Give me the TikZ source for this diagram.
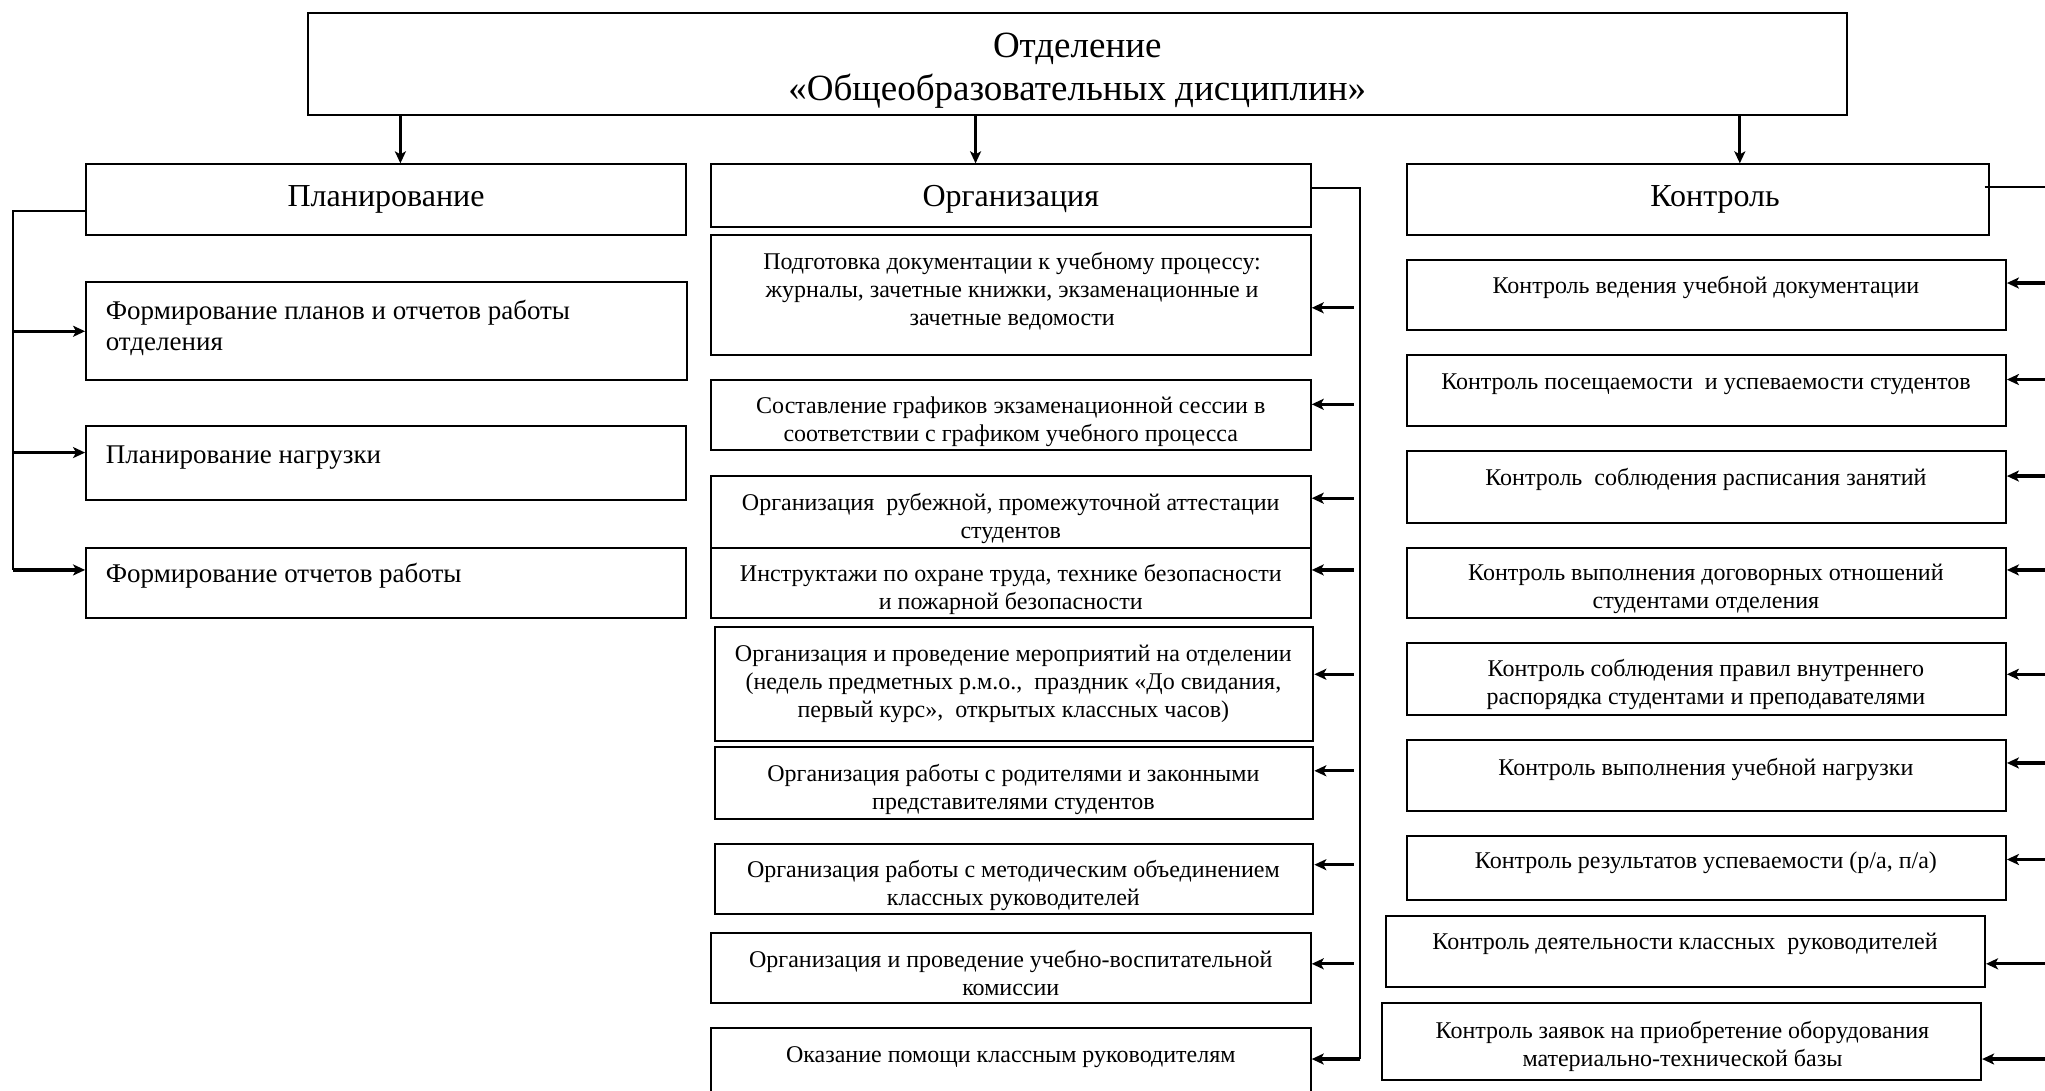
\documentclass[tikz,border=0pt]{standalone}
\usepackage{fontspec}
\setmainfont{Liberation Serif}
\usetikzlibrary{arrows.meta,fit}
\begin{document}
\begin{tikzpicture}[x=1.3042pt,y=-1.3042pt,
  box/.style={draw, line width=2pt, inner sep=0pt},
  txt/.style={align=center, inner sep=0pt, yshift=-3.5pt, font=\fontsize{24}{28}\selectfont},
  ltxt/.style={align=left, inner sep=0pt, anchor=west, yshift=-2pt, font=\fontsize{27}{31.5}\selectfont},
  htxt/.style={align=center, inner sep=0pt, yshift=-3.5pt, font=\fontsize{32}{38}\selectfont},
  ttxt/.style={align=center, inner sep=0pt, yshift=-3.5pt, font=\fontsize{37}{43}\selectfont},
  arr/.style={line width=3.2pt, -{Stealth[length=12pt,width=11pt,inset=3pt]}},
  bus/.style={line width=2pt}]
\useasboundingbox (0,0) rectangle (1568,836);
\fill[white] (0,0) rectangle (1568,836);

% top
\node[box, fit={(236,10) (1416,88)}] (top) {};
\node[ttxt] (topt) at (826,51.5) {Отделение\\«Общеобразовательных дисциплин»};

% headers
\node[box, fit={(66,126) (526,180)}] (pl) {};
\node[htxt] (plt) at (296,150) {Планирование};
\node[box, fit={(545,126) (1005,174)}] (org) {};
\node[htxt] (orgt) at (775,150) {Организация};
\node[box, fit={(1079,126) (1525,180)}] (ctl) {};
\node[htxt] (ctlt) at (1315,150) {Контроль};

\draw[arr] (top.south -| 307,0) -- (pl.north -| 307,0);
\draw[arr] (top.south -| 748,0) -- (org.north -| 748,0);
\draw[arr] (top.south -| 1334,0) -- (ctl.north -| 1334,0);

% left column
\node[box, fit={(66,216) (527,291)}] (p1) {};
\node[ltxt] (p1t) at (81,250) {Формирование планов и отчетов работы\\отделения};
\node[box, fit={(66,327) (526,383)}] (p2) {};
\node[ltxt] (p2t) at (81,349) {Планирование нагрузки};
\node[box, fit={(66,420) (526,474)}] (p3) {};
\node[ltxt] (p3t) at (81,440) {Формирование отчетов работы};

\coordinate (lb) at (10,162);
\coordinate (lbe) at (10,437);
\draw[bus] (pl.west |- lb) -- (lb) -- (lbe);
\draw[arr] (lb |- 0,254) -- (p1.west |- 0,254);
\draw[arr] (lb |- 0,347) -- (p2.west |- 0,347);
\draw[arr] (lbe) -- (p3.west |- lbe);

% middle column
\node[box, fit={(545,180) (1005,272)}] (m1) {};
\node[txt] (m1t) at (776,220.5) {Подготовка документации к учебному процессу:\\журналы, зачетные книжки, экзаменационные и\\зачетные ведомости};
\node[box, fit={(545,291) (1005,345)}] (m2) {};
\node[txt] (m2t) at (775,320.5) {Составление графиков экзаменационной сессии в\\соответствии с графиком учебного процесса};
\node[box, fit={(545,365) (1005,420)}] (m3) {};
\node[txt] (m3t) at (775,394.5) {Организация~ рубежной, промежуточной аттестации\\студентов};
\node[box, fit={(545,420) (1005,474)}] (m4) {};
\node[txt] (m4t) at (775,449) {Инструктажи по охране труда, технике безопасности\\и пожарной безопасности};
\node[box, fit={(548,481) (1007,568)}] (m5) {};
\node[txt] (m5t) at (777,521.5) {Организация и проведение мероприятий на отделении\\(недель предметных р.м.о.,~ праздник «До свидания,\\первый курс»,~ открытых классных часов)};
\node[box, fit={(548,573) (1007,628)}] (m6) {};
\node[txt] (m6t) at (777,602.5) {Организация работы с родителями и законными\\представителями студентов};
\node[box, fit={(548,647) (1007,701)}] (m7) {};
\node[txt] (m7t) at (777,676.5) {Организация работы с методическим объединением\\классных руководителей};
\node[box, fit={(545,715) (1005,769)}] (m8) {};
\node[txt] (m8t) at (775,743.5) {Организация и проведение учебно-воспитательной\\комиссии};
\node[box, fit={(545,788) (1005,850)}] (m9) {};
\node[txt] (m9t) at (775,808) {Оказание помощи классным руководителям};

\coordinate (mb) at (1043,144);
\coordinate (mbe) at (1043,812);
\draw[bus] (org.east |- mb) -- (mb) -- (mbe);
\foreach \n/\y in {m1/236,m2/310,m3/382,m4/437,m5/517,m6/591,m7/663,m8/739}
  \draw[arr] (1038,\y) -- (\n.east |- 0,\y);
\draw[arr] (mbe) -- (m9.east |- mbe);

% right column
\node[box, fit={(1079,199) (1538,253)}] (r1) {};
\node[txt] (r1t) at (1308,218) {Контроль ведения учебной документации};
\node[box, fit={(1079,272) (1538,327)}] (r2) {};
\node[txt] (r2t) at (1308,292) {Контроль посещаемости~ и успеваемости студентов};
\node[box, fit={(1079,346) (1538,401)}] (r3) {};
\node[txt] (r3t) at (1308,365) {Контроль~ соблюдения расписания занятий};
\node[box, fit={(1079,420) (1538,474)}] (r4) {};
\node[txt] (r4t) at (1308,449) {Контроль выполнения договорных отношений\\студентами отделения};
\node[box, fit={(1079,493) (1538,548)}] (r5) {};
\node[txt] (r5t) at (1308,522.5) {Контроль соблюдения правил внутреннего\\распорядка студентами и преподавателями};
\node[box, fit={(1079,567) (1538,622)}] (r6) {};
\node[txt] (r6t) at (1308,587) {Контроль выполнения учебной нагрузки};
\node[box, fit={(1079,641) (1538,690)}] (r7) {};
\node[txt] (r7t) at (1308,659) {Контроль результатов успеваемости (р/а, п/а)};
\node[box, fit={(1063,702) (1522,757)}] (r8) {};
\node[txt] (r8t) at (1292,721) {Контроль деятельности классных~ руководителей};
\node[box, fit={(1060,769) (1519,828)}] (r9) {};
\node[txt] (r9t) at (1290,799.5) {Контроль заявок на приобретение оборудования\\материально-технической базы};

\coordinate (rb) at (1568,143.5);
\draw[bus] (ctl.east |- rb) ++(-4,0) -- (rb);
\foreach \n/\y in {r1/217,r2/291,r3/365,r4/437,r5/517,r6/585,r7/659,r8/739,r9/812}
  \draw[arr] (rb |- 0,\y) -- (\n.east |- 0,\y);
\end{tikzpicture}
\end{document}
